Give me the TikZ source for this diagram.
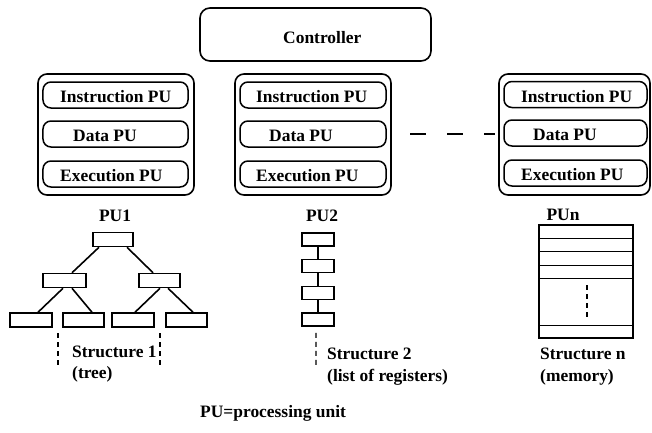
\documentclass[tikz,border=0pt]{standalone}
\usepackage{fontspec}
\setmainfont{Liberation Serif}[BoldFont={Liberation Serif Bold}]
\newfontfamily\diagfont{Liberation Serif Bold}
\begin{document}
\begin{tikzpicture}[x=1bp,y=-1bp,
  every node/.style={font=\diagfont\fontsize{17.5}{20}\selectfont},
  txt/.style={inner sep=0pt,anchor=base west},
  ctr/.style={inner sep=0pt,anchor=base},
  outbox/.style={draw,line width=1.6bp,rounded corners=9bp,inner sep=0pt,minimum width=#1,minimum height=121bp},
  inbox/.style={draw,line width=1.5bp,rounded corners=8bp,inner sep=0pt,minimum width=#1,minimum height=26bp},
  cell/.style={draw,line width=1.5bp,inner sep=0pt,minimum width=#1,minimum height=14bp},
  link/.style={line width=1.6bp},
  dots/.style={line width=1.3bp,dash pattern=on 5bp off 4bp},
  gapline/.style={line width=1.5bp,dash pattern=on 16bp off 21bp}]
\useasboundingbox (0,0) rectangle (652,432);

% controller
\node[draw,line width=1.6bp,rounded corners=10bp,inner sep=0pt,minimum width=231bp,minimum height=53bp] (ctl) at (315.5,34.5) {};
\node[txt] (ctltxt) at (283,43) {Controller};

% processing unit 1
\node[outbox=156bp] (pu1) at (116,134.5) {};
\node[inbox=145bp] (i1) at (115.5,95) {};
\node[inbox=145bp] (d1) at (115.5,134) {};
\node[inbox=145bp] (e1) at (115.5,174) {};
\node[txt] at (60,102) {Instruction PU};
\node[txt] at (73,141) {Data PU};
\node[txt] at (60,181) {Execution PU};

% processing unit 2
\node[outbox=156bp] (pu2) at (313,134.5) {};
\node[inbox=146bp] (i2) at (313,95) {};
\node[inbox=146bp] (d2) at (313,134) {};
\node[inbox=146bp] (e2) at (313,174) {};
\node[txt] at (256,102) {Instruction PU};
\node[txt] at (269,141) {Data PU};
\node[txt] at (256,181) {Execution PU};

% processing unit n
\node[outbox=151bp] (pun) at (574.5,134.5) {};
\node[inbox=143bp] (in) at (575.5,94.5) {};
\node[inbox=143bp] (dn) at (575.5,133) {};
\node[inbox=143bp] (en) at (575.5,173) {};
\node[txt] at (521,102) {Instruction PU};
\node[txt] at (533,140) {Data PU};
\node[txt] at (521,180) {Execution PU};

% dashes between PU2 and PUn
\coordinate (g1) at (410,134);
\coordinate (g2) at (495,134);
\draw[gapline] (g1) -- (g2);

% unit labels
\node[ctr] (l1) at (115,221) {PU1};
\node[ctr] (l2) at (322,221) {PU2};
\node[ctr] (ln) at (563,220) {PUn};

% structure 1: tree
\node[cell=40bp] (r) at (113,239.5) {};
\node[cell=43bp] (a) at (64.5,280.5) {};
\node[cell=41bp] (b) at (159.5,280.5) {};
\node[cell=42bp] (c1) at (31,320) {};
\node[cell=41bp] (c2) at (83.5,320) {};
\node[cell=42bp] (c3) at (133,320) {};
\node[cell=41bp] (c4) at (186.5,320) {};
\draw[link] ([xshift=-14bp]r.south) -- ([xshift=7.5bp]a.north);
\draw[link] ([xshift=14bp]r.south) -- ([xshift=-6.5bp]b.north);
\draw[link] ([xshift=-1.5bp]a.south) -- ([xshift=7bp]c1.north);
\draw[link] ([xshift=7.5bp]a.south) -- ([xshift=8.5bp]c2.north);
\draw[link] ([xshift=0.5bp]b.south) -- ([xshift=2bp]c3.north);
\draw[link] ([xshift=8.5bp]b.south) -- ([xshift=6.5bp]c4.north);
\coordinate (t1a) at (58,333); \coordinate (t1b) at (58,367);
\coordinate (t2a) at (160,333); \coordinate (t2b) at (160,367);
\draw[dots] (t1a) -- (t1b);
\draw[dots] (t2a) -- (t2b);
\node[txt] at (72,357) {Structure 1};
\node[txt] at (72,378) {(tree)};

% structure 2: list of registers
\node[cell=32bp,minimum height=13bp] (q1) at (318,239.5) {};
\node[cell=32bp,minimum height=13bp] (q2) at (318,266) {};
\node[cell=32bp,minimum height=13bp] (q3) at (318,293) {};
\node[cell=32bp,minimum height=13bp] (q4) at (318,319.5) {};
\draw[link] (q1) -- (q2);
\draw[link] (q2) -- (q3);
\draw[link] (q3) -- (q4);
\coordinate (qe) at (316,368);
\draw[dots] ([xshift=-2bp,yshift=-6bp]q4.south) -- (qe);
\node[txt] at (327,359) {Structure 2};
\node[txt] at (327,381) {(list of registers)};

% structure n: memory
\node[draw,line width=1.5bp,inner sep=0pt,minimum width=94bp,minimum height=113bp] (mem) at (586,281.5) {};
\foreach \d in {14,27,41,54,101}
  \draw[line width=1.5bp] ([yshift=-\d bp]mem.north west) -- ([yshift=-\d bp]mem.north east);
\coordinate (m1) at (587,285);
\coordinate (m2) at (587,320);
\draw[dots] (m1) -- (m2);
\node[txt] at (540,359) {Structure n};
\node[txt] at (540,381) {(memory)};

% legend
\node[txt] (legend) at (200,417) {PU=processing unit};
\end{tikzpicture}
\end{document}
